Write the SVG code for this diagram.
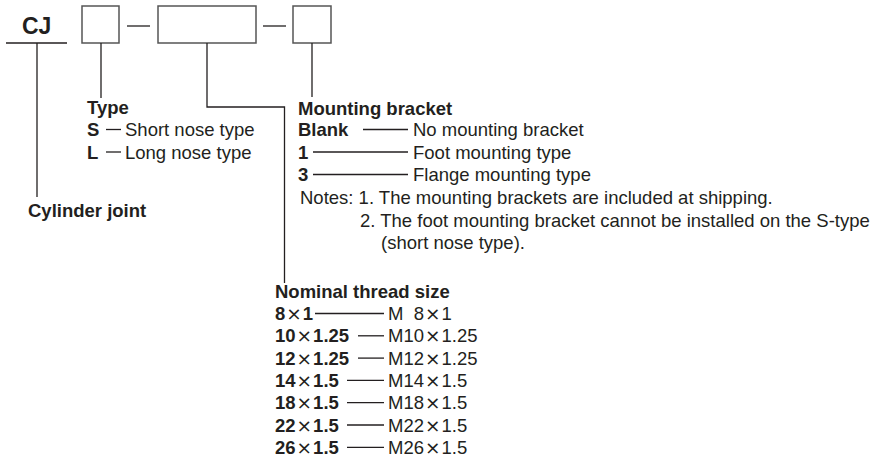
<svg xmlns="http://www.w3.org/2000/svg" width="882" height="459" viewBox="0 0 882 459">
<style>
text{font-family:"Liberation Sans",Arial,sans-serif;font-size:18.5px;fill:#231f20}
.b{font-weight:bold}
.x{font-weight:normal;font-family:"DejaVu Sans",sans-serif}
.box{fill:none;stroke:#555;stroke-width:1.5}
.ln{stroke:#231f20;stroke-width:1.3;fill:none}
</style>
<rect width="882" height="459" fill="#fff"/>
<g id="code">
<text class="b" x="22" y="34" style="font-size:23px">CJ</text>
<line class="ln" x1="6" y1="43" x2="67" y2="43"/>
<rect id="box-type" class="box" x="82" y="6" width="37" height="37"/>
<line class="ln" x1="127" y1="26" x2="150" y2="26"/>
<rect id="box-size" class="box" x="158" y="6" width="98" height="37"/>
<line class="ln" x1="263" y1="26" x2="286" y2="26"/>
<rect id="box-bracket" class="box" x="293" y="6" width="38" height="37"/>
</g>
<g id="connectors">
<polyline class="ln" points="37,43 37,197"/>
<polyline class="ln" points="101,43 101,98"/>
<polyline class="ln" points="207,43 207,107 284.5,107 284.5,283"/>
<polyline class="ln" points="312,43 312,97"/>
</g>
<g id="cylinder-joint">
<text class="b" x="28" y="217">Cylinder joint</text>
</g>
<g id="type">
<text class="b" x="87" y="114">Type</text>
<text class="b" x="87" y="136">S</text>
<line class="ln" x1="106" y1="129.5" x2="121" y2="129.5"/>
<text x="125" y="136">Short nose type</text>
<text class="b" x="87" y="158.5">L</text>
<line class="ln" x1="106" y1="152" x2="121" y2="152"/>
<text x="125" y="158.5">Long nose type</text>
</g>
<g id="mounting-bracket">
<text class="b" x="298" y="115">Mounting bracket</text>
<text class="b" x="298" y="136">Blank</text>
<line class="ln" x1="363" y1="129.5" x2="408" y2="129.5"/>
<text x="413" y="136">No mounting bracket</text>
<text class="b" x="298" y="158.5">1</text>
<line class="ln" x1="313" y1="152" x2="408" y2="152"/>
<text x="413" y="158.5">Foot mounting type</text>
<text class="b" x="298" y="181">3</text>
<line class="ln" x1="313" y1="174.5" x2="408" y2="174.5"/>
<text x="413" y="181">Flange mounting type</text>
<text x="300" y="204">Notes: 1. The mounting brackets are included at shipping.</text>
<text x="360" y="226.5">2. The foot mounting bracket cannot be installed on the S-type</text>
<text x="381" y="249">(short nose type).</text>
</g>
<g id="thread-size">
<text class="b" x="275" y="298">Nominal thread size</text>
<text class="b" x="275" y="320">8<tspan class="x" dx="1">×</tspan><tspan dx="1">1</tspan></text>
<line class="ln" x1="315" y1="313.5" x2="384" y2="313.5"/>
<text x="388" y="320">M&#160;&#160;8<tspan class="x" dx="1">×</tspan><tspan dx="1">1</tspan></text>
<text class="b" x="275" y="342.3">10<tspan class="x" dx="1">×</tspan><tspan dx="1">1.25</tspan></text>
<line class="ln" x1="358" y1="335.8" x2="384" y2="335.8"/>
<text x="388" y="342.3">M10<tspan class="x" dx="1">×</tspan><tspan dx="1">1.25</tspan></text>
<text class="b" x="275" y="364.6">12<tspan class="x" dx="1">×</tspan><tspan dx="1">1.25</tspan></text>
<line class="ln" x1="358" y1="358.1" x2="384" y2="358.1"/>
<text x="388" y="364.6">M12<tspan class="x" dx="1">×</tspan><tspan dx="1">1.25</tspan></text>
<text class="b" x="275" y="386.9">14<tspan class="x" dx="1">×</tspan><tspan dx="1">1.5</tspan></text>
<line class="ln" x1="347" y1="380.4" x2="384" y2="380.4"/>
<text x="388" y="386.9">M14<tspan class="x" dx="1">×</tspan><tspan dx="1">1.5</tspan></text>
<text class="b" x="275" y="409.2">18<tspan class="x" dx="1">×</tspan><tspan dx="1">1.5</tspan></text>
<line class="ln" x1="347" y1="402.7" x2="384" y2="402.7"/>
<text x="388" y="409.2">M18<tspan class="x" dx="1">×</tspan><tspan dx="1">1.5</tspan></text>
<text class="b" x="275" y="431.5">22<tspan class="x" dx="1">×</tspan><tspan dx="1">1.5</tspan></text>
<line class="ln" x1="347" y1="425" x2="384" y2="425"/>
<text x="388" y="431.5">M22<tspan class="x" dx="1">×</tspan><tspan dx="1">1.5</tspan></text>
<text class="b" x="275" y="453.8">26<tspan class="x" dx="1">×</tspan><tspan dx="1">1.5</tspan></text>
<line class="ln" x1="347" y1="447.3" x2="384" y2="447.3"/>
<text x="388" y="453.8">M26<tspan class="x" dx="1">×</tspan><tspan dx="1">1.5</tspan></text>
</g>
</svg>
